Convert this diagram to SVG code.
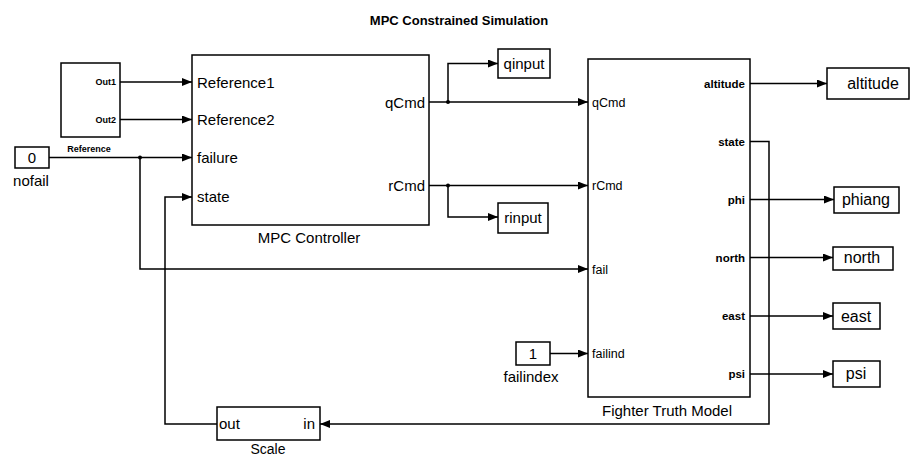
<svg xmlns="http://www.w3.org/2000/svg" width="910" height="458" viewBox="0 0 910 458">
<defs>
<marker id="ah" markerUnits="userSpaceOnUse" markerWidth="11" markerHeight="9" refX="10" refY="4" orient="auto">
<path d="M0,0 L10,4 L0,8 z" fill="#000"/>
</marker>
</defs>
<style>
.blk{fill:#fff;stroke:#000;stroke-width:1.5}
.ln{fill:none;stroke:#000;stroke-width:1.5}
.ar{marker-end:url(#ah)}
text{font-family:"Liberation Sans",Arial,sans-serif;fill:#000}
.t15{font-size:15px}
.t12{font-size:12.5px}
.tb{font-size:11.5px;font-weight:bold}
.ts{font-size:9px;font-weight:bold}
.mid{text-anchor:middle}
.end{text-anchor:end}
</style>
<rect width="910" height="458" fill="#fff"/>
<text x="459" y="25" class="mid" style="font-size:13px;font-weight:bold">MPC Constrained Simulation</text>

<g id="connectors">
<path class="ln ar" d="M120,82 H192"/>
<path class="ln ar" d="M120,119.5 H192"/>
<path class="ln ar" d="M49,157.5 H192"/>
<path class="ln ar" d="M140,157.5 V269 H588"/>
<circle cx="140" cy="157.5" r="2" fill="#000"/>
<path class="ln ar" d="M217,424 H165 V197 H192"/>
<path class="ln ar" d="M750,141.5 H769 V424 H320"/>
<path class="ln ar" d="M429,102 H588"/>
<path class="ln ar" d="M448,102 V63.5 H498"/>
<circle cx="448" cy="102" r="2" fill="#000"/>
<path class="ln ar" d="M429,185.5 H588"/>
<path class="ln ar" d="M448,185.5 V217 H498"/>
<circle cx="448" cy="185.5" r="2" fill="#000"/>
<path class="ln ar" d="M550,353.5 H588"/>
<path class="ln ar" d="M750,83.5 H827"/>
<path class="ln ar" d="M750,199.5 H834"/>
<path class="ln ar" d="M750,257.5 H833"/>
<path class="ln ar" d="M750,316 H833"/>
<path class="ln ar" d="M750,374 H833"/>
</g>

<g id="reference">
<rect class="blk" x="61" y="63" width="59" height="74"/>
<text x="116" y="85" class="ts end">Out1</text>
<text x="116" y="122.5" class="ts end">Out2</text>
<text x="89" y="152" class="ts mid">Reference</text>
</g>

<g id="nofail">
<rect class="blk" x="15" y="147" width="34" height="21"/>
<text x="32" y="162.5" class="t15 mid">0</text>
<text x="31" y="186" class="t15 mid">nofail</text>
</g>

<g id="mpc">
<rect class="blk" x="192" y="55" width="237" height="170"/>
<text x="197" y="87.5" class="t15">Reference1</text>
<text x="197" y="125" class="t15">Reference2</text>
<text x="197" y="163" class="t15">failure</text>
<text x="197" y="202" class="t15">state</text>
<text x="425" y="107.5" class="t15 end">qCmd</text>
<text x="425" y="191" class="t15 end">rCmd</text>
<text x="309" y="242.5" class="t15 mid">MPC Controller</text>
</g>

<g id="qinput">
<rect class="blk" x="498" y="49" width="52" height="29"/>
<text x="524" y="69" class="t15 mid">qinput</text>
</g>

<g id="rinput">
<rect class="blk" x="498" y="203" width="50" height="30"/>
<text x="523" y="222.5" class="t15 mid">rinput</text>
</g>

<g id="fighter">
<rect class="blk" x="588" y="59" width="162" height="338"/>
<text x="592" y="106.5" class="t12">qCmd</text>
<text x="592" y="190" class="t12">rCmd</text>
<text x="592" y="274" class="t12">fail</text>
<text x="592" y="358" class="t12">failind</text>
<text x="745" y="87.5" class="tb end">altitude</text>
<text x="745" y="145.5" class="tb end">state</text>
<text x="745" y="203.5" class="tb end">phi</text>
<text x="745" y="261.5" class="tb end">north</text>
<text x="745" y="320" class="tb end">east</text>
<text x="745" y="378" class="tb end">psi</text>
<text x="667" y="415.5" class="t15 mid">Fighter Truth Model</text>
</g>

<g id="failindex">
<rect class="blk" x="516" y="342" width="34" height="23"/>
<text x="533" y="358.5" class="t15 mid">1</text>
<text x="531" y="382" class="t15 mid">failindex</text>
</g>

<g id="altitude">
<rect class="blk" x="827" y="68" width="82" height="31"/>
<text x="873" y="89" class="t15 mid" style="font-size:16px">altitude</text>
</g>
<g id="phiang">
<rect class="blk" x="834" y="187" width="65" height="26"/>
<text x="866" y="205" class="t15 mid" style="font-size:16px">phiang</text>
</g>
<g id="north">
<rect class="blk" x="833" y="247" width="60" height="23"/>
<text x="862" y="263" class="t15 mid" style="font-size:16px">north</text>
</g>
<g id="east">
<rect class="blk" x="833" y="303" width="47" height="26"/>
<text x="856" y="321.5" class="t15 mid" style="font-size:16px">east</text>
</g>
<g id="psi">
<rect class="blk" x="833" y="361" width="47" height="26"/>
<text x="856" y="379" class="t15 mid" style="font-size:16px">psi</text>
</g>

<g id="scale">
<rect class="blk" x="217" y="407" width="103" height="33"/>
<text x="219" y="429" class="t15">out</text>
<text x="315" y="429" class="t15 end">in</text>
<text x="268" y="454" class="mid" style="font-size:14px">Scale</text>
</g>
</svg>
